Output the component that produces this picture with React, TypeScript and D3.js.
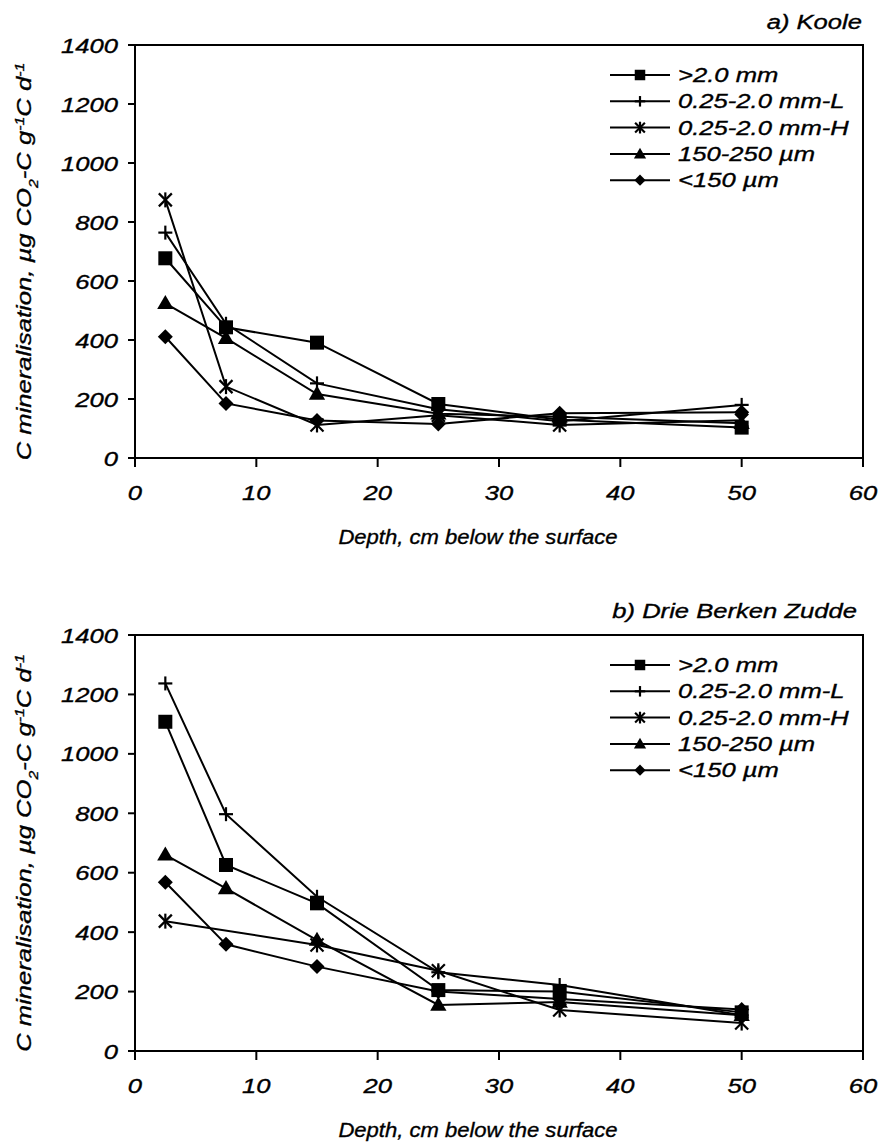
import React from "react";
import * as d3 from "d3";

// Sampling depths (cm below the surface)
const depths = [2.5, 7.5, 15, 25, 35, 50];

// Aggregate size fractions
const fractionLabels = [">2.0 mm", "0.25-2.0 mm-L", "0.25-2.0 mm-H", "150-250 µm", "<150 µm"];
const fractionMarkers = ["square", "plus", "star", "triangle", "diamond"];

// a) Koole — C mineralisation, µg CO2-C g-1 C d-1
const kooleCoarse = [677, 443, 391, 183, 130, 103];
const kooleMediumL = [764, 455, 253, 165, 125, 180];
const kooleMediumH = [875, 242, 112, 145, 112, 128];
const kooleFine = [524, 406, 217, 150, 140, 118];
const kooleVeryFine = [411, 185, 127, 115, 152, 155];

// b) Drie Berken Zudde
const dbzCoarse = [1108, 626, 497, 205, 200, 130];
const dbzMediumL = [1237, 797, 519, 265, 222, 120];
const dbzMediumH = [437, null, 357, 270, 138, 94];
const dbzFine = [660, 547, 373, 155, 165, 120];
const dbzVeryFine = [568, 359, 284, 200, 175, 140];

const xTicks = [0, 10, 20, 30, 40, 50, 60];
const yTicks = [0, 200, 400, 600, 800, 1000, 1200, 1400];

const panels = [
  { title: "a) Koole", top: 45, bottom: 458, titleX: 862, titleY: 29, legendY: 82,
    series: [kooleCoarse, kooleMediumL, kooleMediumH, kooleFine, kooleVeryFine] },
  { title: "b) Drie Berken Zudde", top: 635, bottom: 1051, titleX: 857, titleY: 618, legendY: 672,
    series: [dbzCoarse, dbzMediumL, dbzMediumH, dbzFine, dbzVeryFine] },
];

const LEFT = 135;
const RIGHT = 863;
const FONT = "'Liberation Sans', Arial, Helvetica, sans-serif";
const FS = 21;
const SX = 1.22;

function Label({ x, y, anchor = "start", children, size = FS, sx = SX }: any) {
  return (
    <text
      transform={`translate(${x},${y}) scale(${sx},1)`}
      textAnchor={anchor}
      fontFamily={FONT}
      fontStyle="italic"
      fontSize={size}
      fill="#000"
      stroke="#000"
      strokeWidth={0.35}
    >
      {children}
    </text>
  );
}

function Marker({ kind, x, y, s = 1 }: any) {
  const sw = 2.2;
  if (kind === "square") {
    const h = 7 * s;
    return <rect x={x - h} y={y - h} width={2 * h} height={2 * h} fill="#000" />;
  }
  if (kind === "triangle") {
    const p = d3.symbol(d3.symbolTriangle, 115 * s * s)();
    return <path d={p as string} transform={`translate(${x},${y + 1})`} fill="#000" />;
  }
  if (kind === "diamond") {
    const h = 7.5 * s;
    return <path d={`M${x},${y - h}L${x + h},${y}L${x},${y + h}L${x - h},${y}Z`} fill="#000" />;
  }
  if (kind === "plus") {
    const h = 7 * s;
    return (
      <g stroke="#000" strokeWidth={sw}>
        <line x1={x - h} y1={y} x2={x + h} y2={y} />
        <line x1={x} y1={y - h} x2={x} y2={y + h} />
      </g>
    );
  }
  // asterisk: X with a vertical stroke
  const h = 6.5 * s;
  return (
    <g stroke="#000" strokeWidth={sw}>
      <line x1={x - h} y1={y - h} x2={x + h} y2={y + h} />
      <line x1={x - h} y1={y + h} x2={x + h} y2={y - h} />
      <line x1={x} y1={y - h - 1} x2={x} y2={y + h + 1} />
    </g>
  );
}

function Panel({ p }: any) {
  const x = d3.scaleLinear().domain([0, 60]).range([LEFT, RIGHT]);
  const y = d3.scaleLinear().domain([0, 1400]).range([p.bottom, p.top]);
  const line = d3
    .line<[number, number | null]>()
    .x((d) => x(d[0]))
    .y((d) => y(d[1] as number));
  const mid = (p.top + p.bottom) / 2 + 10;

  return (
    <g>
      <Label x={p.titleX} y={p.titleY} anchor="end">{p.title}</Label>

      {/* plot frame */}
      <rect x={LEFT} y={p.top} width={RIGHT - LEFT} height={p.bottom - p.top} fill="none" stroke="#000" strokeWidth={2} />

      {/* y axis */}
      {yTicks.map((t) => (
        <g key={t}>
          <line x1={LEFT - 7} x2={LEFT} y1={y(t)} y2={y(t)} stroke="#000" strokeWidth={2} />
          <Label x={118} y={y(t) + 7.5} anchor="end">{t}</Label>
        </g>
      ))}
      <text
        transform={`translate(31,${mid}) rotate(-90) scale(${SX},1)`}
        textAnchor="middle"
        fontFamily={FONT}
        fontStyle="italic"
        fontSize={FS}
        stroke="#000"
        strokeWidth={0.35}
      >
        C mineralisation, µg CO
        <tspan baselineShift="sub" fontSize={13}>2</tspan>
        -C g
        <tspan baselineShift="super" fontSize={13}>-1</tspan>
        C d
        <tspan baselineShift="super" fontSize={13}>-1</tspan>
      </text>

      {/* x axis */}
      {xTicks.map((t) => (
        <g key={t}>
          <line x1={x(t)} x2={x(t)} y1={p.bottom} y2={p.bottom + 9} stroke="#000" strokeWidth={2} />
          <Label x={x(t)} y={p.bottom + 42} anchor="middle">{t}</Label>
        </g>
      ))}
      <Label x={478} y={p.bottom + 86} anchor="middle" sx={1.05}>Depth, cm below the surface</Label>

      {/* series */}
      {p.series.map((vals: (number | null)[], i: number) => {
        const pts = depths.map((d, j) => [d, vals[j]] as [number, number | null]).filter((d) => d[1] != null);
        return (
          <g key={i}>
            <path d={line(pts) as string} fill="none" stroke="#000" strokeWidth={2} />
            {pts.map((d, j) => (
              <Marker key={j} kind={fractionMarkers[i]} x={x(d[0])} y={y(d[1] as number)} />
            ))}
          </g>
        );
      })}

      {/* legend */}
      {fractionLabels.map((name, i) => {
        const ly = p.legendY + i * 26.3;
        return (
          <g key={name}>
            <line x1={610} x2={670} y1={ly - 7} y2={ly - 7} stroke="#000" strokeWidth={2} />
            <Marker kind={fractionMarkers[i]} x={640} y={ly - 7} s={0.75} />
            <Label x={678} y={ly}>{name}</Label>
          </g>
        );
      })}
    </g>
  );
}

export default function App() {
  return (
    <svg
      width={889}
      height={1143}
      style={{ position: "absolute", left: 0, top: 0, background: "#fff" }}
    >
      <rect width={889} height={1143} fill="#fff" />
      {panels.map((p) => (
        <Panel key={p.title} p={p} />
      ))}
    </svg>
  );
}
